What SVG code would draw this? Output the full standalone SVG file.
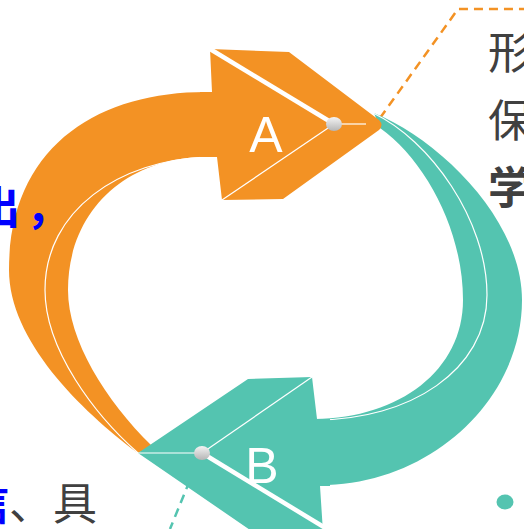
<svg xmlns="http://www.w3.org/2000/svg" width="524" height="529" viewBox="0 0 524 529">
  <defs>
    <linearGradient id="dotGrad" x1="0" y1="0" x2="0" y2="1">
      <stop offset="0" stop-color="#F4F4F4"/>
      <stop offset="1" stop-color="#B5B5B5"/>
    </linearGradient>
    <style>
      .orange { fill: #F39224; }
      .teal { fill: #54C4B0; }
      .seam { fill: none; stroke: #FFFFFF; stroke-width: 1.2; }
      .stripe { fill: none; stroke: #FFFFFF; stroke-width: 4.5; }
      .dot { fill: url(#dotGrad); }
      .letter { font-family: "Liberation Sans", Arial, sans-serif; font-size: 50px; fill: #FFFFFF; text-anchor: middle; }
      .cjk { font-family: "Noto Sans CJK SC", "Noto Sans", sans-serif; font-size: 44px; fill: #404040; }
      .blue { fill: #0000FF; font-weight: bold; }
      .bold { font-weight: bold; }
      .dash-o { fill: none; stroke: #F39224; stroke-width: 2.5; stroke-dasharray: 9 6; }
      .dash-t { fill: none; stroke: #54C4B0; stroke-width: 2.5; stroke-dasharray: 9 6; }
    </style>
  </defs>

  <g id="connectors">
    <path class="dash-o" d="M 380,118 L 458,9 L 524,9"/>
    <path class="dash-t" d="M 201,453 L 170,529"/>
    <ellipse class="teal" cx="505" cy="502" rx="8.5" ry="7.5"/>
  </g>

  <g id="arc-orange">
    <path class="orange" d="M 216,92 L 212,92 C 100,90 9,145 9,270 C 9,340 80,410 138,453 L 152,446 C 105,400 68,340 68,290 C 68,212 125,157 207,157 L 216,157 Z"/>
    <path class="seam" d="M 207,157 C 120,160 45,210 45,290 C 45,350 95,415 138,453"/>
  </g>

  <g id="arc-teal">
    <path class="teal" d="M 374,113 C 440,140 522,220 522,300 C 522,400 430,485 320,485 L 316,485 L 313,419 L 315,419 C 400,418 463,370 463,300 C 463,230 425,160 380,128 Z"/>
    <path class="seam" d="M 373,113 C 430,140 487,220 487,295 C 487,370 410,420 315,420"/>
  </g>

  <g id="node-A">
    <path class="orange" d="M 210,49 L 289,52 L 379,120 Q 384,125 379,130 L 283,199 L 222,200 L 217,157 L 200,157 L 200,92 L 212,92 Z"/>
    <line class="stripe" x1="210" y1="49" x2="334" y2="124"/>
    <line class="seam" x1="334" y1="124" x2="366" y2="124"/>
    <line class="seam" x1="334" y1="124" x2="222" y2="200"/>
    <ellipse class="dot" cx="334" cy="124" rx="8" ry="7"/>
    <text class="letter" x="266" y="152">A</text>
  </g>

  <g id="node-B">
    <path class="teal" d="M 138,453 L 248,379 L 312,377 L 317,419 L 330,419 L 330,486 L 320,486 L 323,532 L 253,532 Z"/>
    <line class="stripe" x1="202" y1="453" x2="327" y2="529"/>
    <line class="seam" x1="202" y1="453" x2="312" y2="377"/>
    <line class="seam" x1="202" y1="453" x2="138" y2="453"/>
    <ellipse class="dot" cx="202" cy="453" rx="8" ry="7"/>
    <text class="letter" x="262" y="483">B</text>
  </g>

  <g id="texts">
    <text class="cjk" x="488" y="69">形</text>
    <text class="cjk" x="488" y="137">保</text>
    <text class="cjk bold" x="488" y="204">学</text>
    <text class="cjk blue" x="-24" y="224">出</text>
    <text class="cjk blue" x="26" y="224">，</text>
    <text class="cjk" y="520"><tspan class="blue" x="-35">信</tspan><tspan x="9">、具</tspan></text>
  </g>
</svg>
